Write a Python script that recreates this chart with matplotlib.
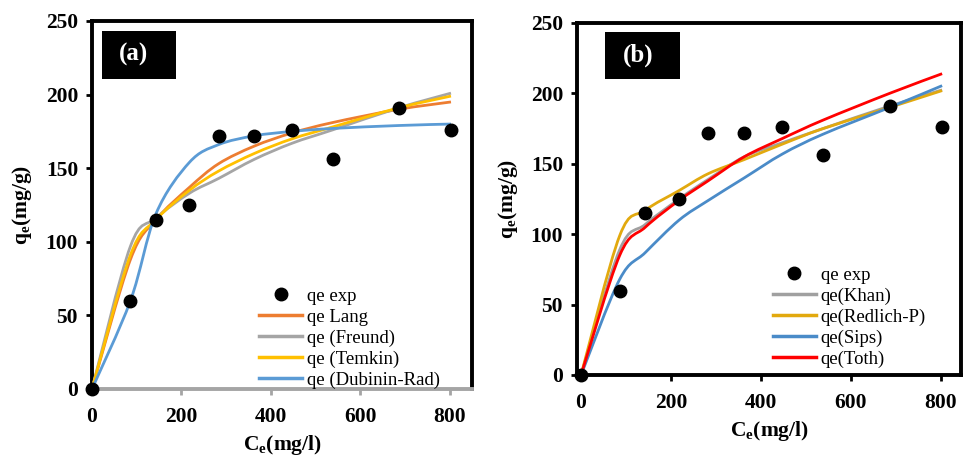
import numpy as np
import matplotlib
matplotlib.use("Agg")
import matplotlib.pyplot as plt
from matplotlib.path import Path
from matplotlib.patches import PathPatch, Rectangle

plt.rcParams['font.family'] = ['Liberation Serif', 'DejaVu Serif']
plt.rcParams['mathtext.fontset'] = 'custom'
plt.rcParams['mathtext.rm'] = 'Liberation Serif:bold'
plt.rcParams['mathtext.bf'] = 'Liberation Serif:bold'
plt.rcParams['mathtext.it'] = 'Liberation Serif:bold:italic'

# experimental data (same in both panels)
ce = [0, 86, 143, 218, 283, 363, 448, 538, 686, 803]
qe_exp = [0, 60, 115, 125, 172, 172, 176, 156, 191, 176]

# panel (a) model fits, read at each Ce
qe_lang = [0, 88, 115, 137, 153, 165, 174, 181, 190, 195]
qe_freund = [0, 97, 116, 133, 143, 156, 167, 176, 191, 201]
qe_temkin = [0, 91, 115, 135, 148, 160, 170, 178, 191, 199]
qe_dubinin = [0, 60, 119, 154, 166, 172, 175, 177, 179, 180]

# panel (b) model fits
qe_khan = [0, 89, 107, 125, 139, 155, 165, 175, 191, 202.5]
qe_redlich = [0, 99, 117, 131, 143, 153, 164, 175, 190, 202]
qe_sips = [0, 68, 87, 110, 124, 140, 157, 171, 190, 205.5]
qe_toth = [0, 85, 105, 124, 138, 155, 168, 181, 200, 214]

series_a = [("qe Lang", qe_lang, '#ED7D31'),
            ("qe (Freund)", qe_freund, '#A5A5A5'),
            ("qe (Temkin)", qe_temkin, '#FFC000'),
            ("qe (Dubinin-Rad)", qe_dubinin, '#5B9BD5')]
series_b = [("qe(Khan)", qe_khan, '#A0A0A0'),
            ("qe(Redlich-P)", qe_redlich, '#E2A90E'),
            ("qe(Sips)", qe_sips, '#4A8BC8'),
            ("qe(Toth)", qe_toth, '#FF0000')]


def smooth_path(x, y):
    # Excel-like smoothed line: cubic bezier through the points
    p = np.column_stack([x, y]).astype(float)
    n = len(p)
    verts = [p[0]]
    codes = [Path.MOVETO]
    for i in range(n - 1):
        p0 = p[i - 1] if i > 0 else p[i]
        p3 = p[i + 2] if i + 2 < n else p[i + 1]
        c1 = p[i] + (p[i + 1] - p0) / 6.0
        c2 = p[i + 1] - (p3 - p[i]) / 6.0
        verts += [c1, c2, p[i + 1]]
        codes += [Path.CURVE4] * 3
    return Path(verts, codes)


def draw_panel(ax, series, tag, xlim, bottom_color, leg_anchor, box_x, txt_x):
    for label, vals, color in series:
        ax.add_patch(PathPatch(smooth_path(ce, vals), facecolor='none',
                               edgecolor=color, lw=2.0, zorder=3))
    ax.plot(ce, qe_exp, 'o', color='black', ms=9, zorder=5, clip_on=False)

    # legend proxies
    handles = [ax.plot([], [], 'o', color='black', ms=9, label='qe exp')[0]]
    for label, vals, color in series:
        handles.append(ax.plot([], [], '-', color=color, lw=2.5, label=label)[0])
    ax.legend(handles=handles, loc='lower left', bbox_to_anchor=leg_anchor,
              frameon=False, fontsize=13.5, handlelength=2.3, handletextpad=0.25,
              labelspacing=0.2, borderpad=0, borderaxespad=0)

    ax.set_xlim(*xlim)
    ax.set_ylim(0, 250)
    ax.set_xticks([0, 200, 400, 600, 800])
    ax.set_yticks([0, 50, 100, 150, 200, 250])
    for s in ['left', 'top', 'right']:
        ax.spines[s].set_linewidth(2.8)
        ax.spines[s].set_color('black')
    ax.spines['bottom'].set_linewidth(2.8)
    ax.spines['bottom'].set_color(bottom_color)
    ax.tick_params(axis='both', direction='out', length=4, width=2,
                   labelsize=15.5, pad=6)
    ax.tick_params(axis='x', color=bottom_color, pad=9)
    for lab in ax.get_xticklabels() + ax.get_yticklabels():
        lab.set_fontweight('bold')
    ax.set_xlabel(r'C$_{\rm e}$(mg/l)', fontsize=15.5, fontweight='bold', labelpad=4)
    ax.set_ylabel(r'q$_{\rm e}$(mg/g)', fontsize=15.5, fontweight='bold', labelpad=8)

    ax.add_patch(Rectangle((box_x, 0.842), 0.196, 0.132, transform=ax.transAxes,
                           facecolor='black', edgecolor='none', zorder=6))
    ax.text(txt_x, 0.908, tag, transform=ax.transAxes, color='white',
            fontsize=18, fontweight='bold', ha='center', va='center', zorder=7)


fig = plt.figure(figsize=(9.66, 4.55), dpi=100)
ax1 = fig.add_axes([92 / 966, 66 / 455, 380 / 966, 368 / 455])
ax2 = fig.add_axes([577 / 966, 80 / 455, 384 / 966, 352 / 455])

draw_panel(ax1, series_a, '(a)', (0, 850), '#A5A5A5', (0.44, 0.0), 0.026, 0.108)
draw_panel(ax2, series_b, '(b)', (-9, 845), 'black', (0.51, 0.02), 0.073, 0.159)

fig.savefig('out.png', dpi=100)
